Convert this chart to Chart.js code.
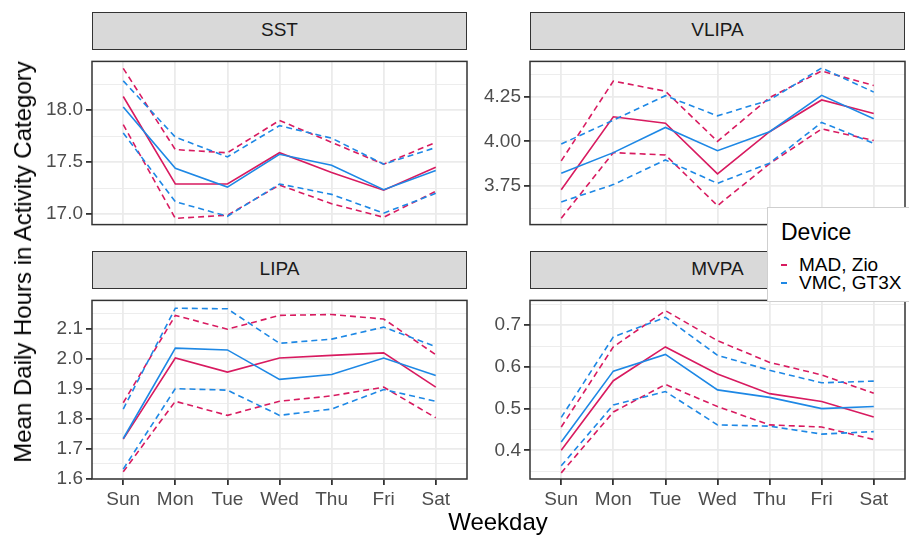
<!DOCTYPE html>
<html>
<head>
<meta charset="utf-8">
<script src="https://cdn.jsdelivr.net/npm/chart.js@4.4.1/dist/chart.umd.min.js"></script>
<style>
  body { margin: 0; background: #fff; font-family: "Liberation Sans", Arial, sans-serif; }
  #page { position: relative; width: 909px; height: 537px; overflow: hidden; }
  .strip { position: absolute; box-sizing: border-box; background: #d9d9d9; border: 1.5px solid #333;
           color: #1a1a1a; font-size: 19px; text-align: center; line-height: 34px; }
  .wrap { position: absolute; }
  .ytitle { position: absolute; left: 23px; top: 262px; transform: translate(-50%, -50%) rotate(-90deg);
            font-size: 24px; white-space: nowrap; color: #000; }
  .xtitle { position: absolute; left: 498px; top: 522px; transform: translate(-50%, -50%);
            font-size: 24px; color: #000; }
  #legend { position: absolute; left: 767px; top: 207px; width: 150px; height: 95px; box-sizing: border-box;
            background: #fff; border: 1px solid #cfcfcf; z-index: 5; }
  #legend .title { position: absolute; left: 13px; top: 11px; font-size: 23px; line-height: 26px; }
  #legend .item { position: absolute; left: 31px; font-size: 19px; line-height: 20px; }
  #legend .key { position: absolute; left: 13px; width: 6px; height: 2px; }
</style>
</head>
<body>
<div id="page">
  <div class="strip" style="left:92px;top:12px;width:375px;height:38px;">SST</div>
  <div class="strip" style="left:530px;top:12px;width:375px;height:38px;">VLIPA</div>
  <div class="strip" style="left:92px;top:251px;width:375px;height:38px;">LIPA</div>
  <div class="strip" style="left:530px;top:251px;width:375px;height:38px;">MVPA</div>

  <div class="wrap" style="left:22px;top:47px;width:447px;height:192px;"><canvas id="sst"></canvas></div>
  <div class="wrap" style="left:460px;top:47px;width:447px;height:192px;"><canvas id="vlipa"></canvas></div>
  <div class="wrap" style="left:22px;top:286px;width:447px;height:233px;"><canvas id="lipa"></canvas></div>
  <div class="wrap" style="left:460px;top:286px;width:447px;height:233px;"><canvas id="mvpa"></canvas></div>

  <div class="ytitle">Mean Daily Hours in Activity Category</div>
  <div class="xtitle">Weekday</div>

  <div id="legend">
    <div class="title">Device</div>
    <div class="key" style="top:56px;background:#D81B60;"></div>
    <div class="item" style="top:47px;">MAD, Zio</div>
    <div class="key" style="top:74px;background:#1E88E5;"></div>
    <div class="item" style="top:65px;">VMC, GT3X</div>
  </div>
</div>

<script>
const days = ['Sun', 'Mon', 'Tue', 'Wed', 'Thu', 'Fri', 'Sat'];

// SST
const sstMad   = [18.13, 17.29, 17.29, 17.59, 17.40, 17.23, 17.45];
const sstMadLo = [17.86, 16.96, 16.99, 17.28, 17.10, 16.97, 17.22];
const sstMadHi = [18.40, 17.62, 17.59, 17.90, 17.69, 17.48, 17.69];
const sstVmc   = [18.03, 17.44, 17.26, 17.575, 17.47, 17.235, 17.42];
const sstVmcLo = [17.78, 17.12, 16.98, 17.29, 17.19, 17.01, 17.20];
const sstVmcHi = [18.28, 17.74, 17.55, 17.85, 17.73, 17.48, 17.64];

// VLIPA
const vlipaMad   = [3.729, 4.138, 4.102, 3.818, 4.054, 4.232, 4.156];
const vlipaMadLo = [3.570, 3.937, 3.924, 3.640, 3.875, 4.070, 4.005];
const vlipaMadHi = [3.891, 4.338, 4.281, 4.000, 4.245, 4.394, 4.313];
const vlipaVmc   = [3.821, 3.937, 4.078, 3.948, 4.054, 4.258, 4.127];
const vlipaVmcLo = [3.661, 3.758, 3.896, 3.765, 3.878, 4.106, 3.989];
const vlipaVmcHi = [3.985, 4.119, 4.256, 4.143, 4.232, 4.411, 4.276];

// LIPA
const lipaMad   = [1.732, 2.002, 1.955, 2.002, 2.011, 2.019, 1.905];
const lipaMadLo = [1.623, 1.858, 1.811, 1.858, 1.876, 1.905, 1.803];
const lipaMadHi = [1.853, 2.144, 2.098, 2.144, 2.147, 2.132, 2.013];
const lipaVmc   = [1.734, 2.035, 2.029, 1.931, 1.947, 2.002, 1.944];
const lipaVmcLo = [1.632, 1.900, 1.895, 1.811, 1.832, 1.897, 1.858];
const lipaVmcHi = [1.832, 2.168, 2.166, 2.051, 2.065, 2.105, 2.040];

// MVPA
const mvpaMad   = [0.400, 0.567, 0.648, 0.583, 0.536, 0.517, 0.480];
const mvpaMadLo = [0.346, 0.492, 0.558, 0.505, 0.461, 0.456, 0.426];
const mvpaMadHi = [0.456, 0.648, 0.735, 0.663, 0.611, 0.581, 0.537];
const mvpaVmc   = [0.420, 0.590, 0.630, 0.545, 0.527, 0.500, 0.505];
const mvpaVmcLo = [0.363, 0.509, 0.541, 0.461, 0.458, 0.439, 0.445];
const mvpaVmcHi = [0.479, 0.672, 0.719, 0.628, 0.592, 0.562, 0.566];

// y tick labels per panel
const sstTicks   = [17.0, 17.5, 18.0];
const vlipaTicks = [3.75, 4.00, 4.25];
const lipaTicks  = [1.6, 1.7, 1.8, 1.9, 2.0, 2.1];
const mvpaTicks  = [0.4, 0.5, 0.6, 0.7];

const RED = '#D81B60';
const BLUE = '#1E88E5';
const GRID = '#ebebeb';
const TICK = '#4d4d4d';
const FONT = '"Liberation Sans", Arial, sans-serif';

function line(arr, color, dashed) {
  return {
    data: arr.map((v, i) => ({ x: i, y: v })),
    borderColor: color,
    borderWidth: 1.6,
    borderDash: dashed ? [6, 4] : [],
    pointRadius: 0,
    tension: 0,
    fill: false
  };
}

// panel border like theme_bw
const frame = {
  id: 'frame',
  afterDraw(chart) {
    const a = chart.chartArea, c = chart.ctx;
    c.save();
    c.strokeStyle = '#333';
    c.lineWidth = 1.5;
    c.strokeRect(a.left, a.top, a.right - a.left, a.bottom - a.top);
    c.restore();
  }
};

function panel(id, series, ticks, digits, min, max, bottom) {
  const [mad, madLo, madHi, vmc, vmcLo, vmcHi] = series;
  const half = (ticks[1] - ticks[0]) / 2;
  const yTicks = [];
  for (let k = -2; k <= ticks.length * 2 + 2; k++) {
    const v = ticks[0] + k * half;
    if (v >= min && v <= max) yTicks.push({ value: v, minor: k % 2 !== 0 });
  }

  new Chart(document.getElementById(id), {
    type: 'line',
    data: {
      datasets: [
        line(vmc, BLUE, false), line(vmcLo, BLUE, true), line(vmcHi, BLUE, true),
        line(mad, RED, false), line(madLo, RED, true), line(madHi, RED, true)
      ]
    },
    options: {
      responsive: true,
      maintainAspectRatio: false,
      animation: false,
      events: [],
      layout: { padding: { top: 2, right: 2, bottom: bottom ? 0 : 2, left: 0 } },
      plugins: { legend: { display: false }, tooltip: { enabled: false } },
      scales: {
        x: {
          type: 'linear',
          min: -0.6,
          max: 6.6,
          afterBuildTicks: s => { s.ticks = days.map((d, i) => ({ value: i })); },
          afterFit: s => { s.height = bottom ? 40 : 0; },
          border: { display: false },
          grid: { color: GRID, lineWidth: 1.8, drawTicks: bottom, tickLength: 6, tickColor: '#333' },
          ticks: {
            display: bottom,
            autoSkip: false,
            maxRotation: 0,
            padding: 3,
            color: TICK,
            font: { family: FONT, size: 19 },
            callback: v => days[v]
          }
        },
        y: {
          min: min,
          max: max,
          afterBuildTicks: s => { s.ticks = yTicks.map(t => ({ value: t.value, minor: t.minor })); },
          afterFit: s => { s.width = 70; },
          border: { display: false },
          grid: {
            color: GRID,
            lineWidth: c => (c.tick && c.tick.minor) ? 0.9 : 1.8,
            tickLength: 6,
            tickColor: c => (c.tick && c.tick.minor) ? 'rgba(0,0,0,0)' : '#333'
          },
          ticks: {
            autoSkip: false,
            padding: 3,
            color: TICK,
            font: { family: FONT, size: 19 },
            callback: (v, i) => yTicks[i].minor ? '' : v.toFixed(digits)
          }
        }
      }
    },
    plugins: [frame]
  });
}

panel('sst',   [sstMad, sstMadLo, sstMadHi, sstVmc, sstVmcLo, sstVmcHi], sstTicks, 1, 16.9, 18.467, false);
panel('vlipa', [vlipaMad, vlipaMadLo, vlipaMadHi, vlipaVmc, vlipaVmcLo, vlipaVmcHi], vlipaTicks, 2, 3.534, 4.448, false);
panel('lipa',  [lipaMad, lipaMadLo, lipaMadHi, lipaVmc, lipaVmcLo, lipaVmcHi], lipaTicks, 1, 1.599, 2.194, true);
panel('mvpa',  [mvpaMad, mvpaMadLo, mvpaMadHi, mvpaVmc, mvpaVmcLo, mvpaVmcHi], mvpaTicks, 1, 0.3313, 0.7596, true);
</script>
</body>
</html>
